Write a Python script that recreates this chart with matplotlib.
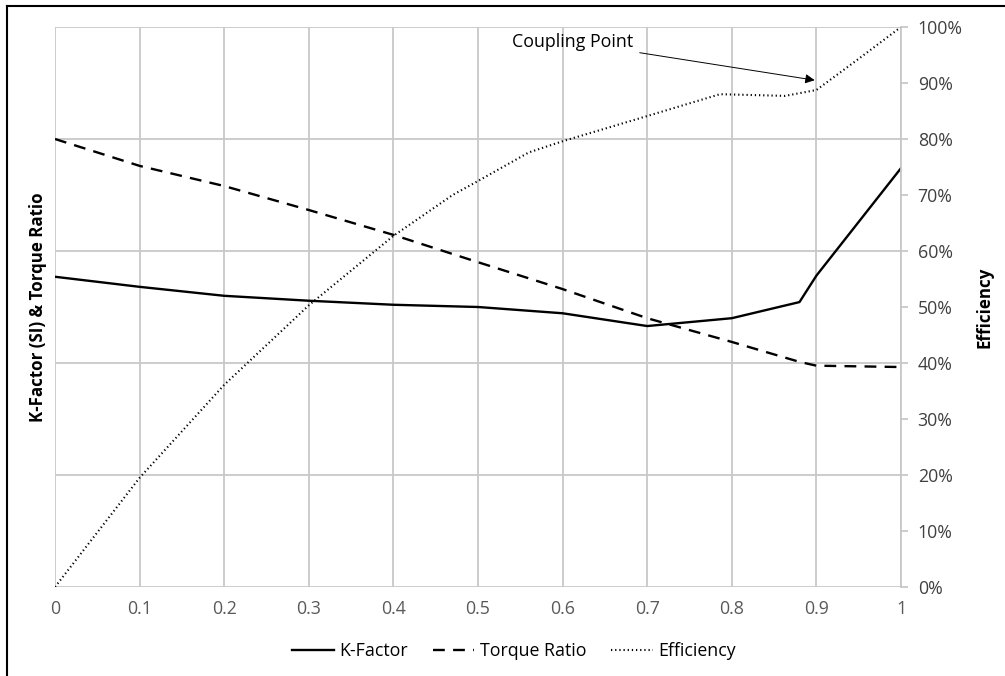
import matplotlib.pyplot as plt
from matplotlib.lines import Line2D
from matplotlib.ticker import PercentFormatter

plt.rcParams['font.family'] = ['Open Sans', 'DejaVu Sans']

# speed ratio
k_x = [0, 0.1, 0.2, 0.3, 0.4, 0.5, 0.6, 0.7, 0.8, 0.88, 0.9, 1.0]
k_factor = [1.385, 1.34, 1.30, 1.278, 1.26, 1.25, 1.222, 1.165, 1.20, 1.272, 1.39, 1.87]

tr_x = [0, 0.1, 0.2, 0.3, 0.4, 0.5, 0.6, 0.7, 0.8, 0.88, 0.9, 1.0]
torque_ratio = [2.0, 1.88, 1.79, 1.683, 1.572, 1.45, 1.33, 1.20, 1.094, 1.005, 0.988, 0.982]

eff_x = [0, 0.1, 0.2, 0.3, 0.4, 0.47, 0.5, 0.56, 0.6, 0.7, 0.786, 0.863, 0.9, 0.948, 1.0]
efficiency = [0.0, 0.195, 0.361, 0.503, 0.627, 0.70, 0.725, 0.776, 0.796, 0.841, 0.880,
              0.877, 0.8875, 0.941, 1.0]

fig = plt.figure(figsize=(10.05, 6.76), dpi=100)
ax = fig.add_axes([55 / 1005, 1 - 587 / 676, 846 / 1005, 560 / 676])
ax2 = ax.twinx()

grid_c = '#c8c8c8'
fs = 12.8
ax.set_xlim(0, 1)
ax.set_ylim(0, 2.5)
ax.set_xticks([i / 10 for i in range(11)])
ax.set_xticklabels(['0'] + [f'{i / 10:.1f}' for i in range(1, 10)] + ['1'])
ax.set_yticks([0, 0.5, 1.0, 1.5, 2.0, 2.5])
ax.set_yticklabels([])
ax.grid(True, color=grid_c, lw=1.3)
ax.tick_params(axis='y', length=0)
ax.tick_params(axis='x', length=0, pad=9, labelsize=fs, labelcolor='#595959')
for s in ['top', 'left', 'bottom', 'right']:
    ax.spines[s].set_visible(False)

ax.plot(k_x, k_factor, color='black', lw=1.7, label='K-Factor')
ax.plot(tr_x, torque_ratio, color='black', lw=1.7, dashes=(5, 3.5), label='Torque Ratio')
ax2.plot(eff_x, efficiency, color='black', lw=1.5, dashes=(0.6, 1.4), label='Efficiency')

ax2.set_ylim(0, 1)
ax2.set_yticks([i / 10 for i in range(11)])
ax2.yaxis.set_major_formatter(PercentFormatter(1, decimals=0))
ax2.tick_params(axis='y', length=5, color=grid_c, width=1.3, pad=7,
                labelsize=fs, labelcolor='#404040')
for s in ['top', 'left', 'bottom']:
    ax2.spines[s].set_visible(False)
ax2.spines['right'].set_color(grid_c)
ax2.spines['right'].set_linewidth(1.3)

ax.set_ylabel('K-Factor (SI) & Torque Ratio', fontsize=12.2, fontweight='bold', labelpad=2)
ax2.set_ylabel('Efficiency', fontsize=12.2, fontweight='bold', labelpad=9)

ax2.annotate('Coupling Point', xy=(0.898, 0.905), xytext=(0.683, 0.973),
             fontsize=fs, ha='right', va='center',
             arrowprops=dict(arrowstyle='-|>', color='black', lw=0.7,
                             mutation_scale=14, shrinkA=3, shrinkB=0))

h1, l1 = ax.get_legend_handles_labels()
h2, l2 = ax2.get_legend_handles_labels()
fig.legend(h1 + h2, l1 + l2, loc='center', bbox_to_anchor=(514 / 1005, 1 - 651 / 676),
           ncol=3, frameon=False, fontsize=fs, handlelength=2.35, columnspacing=1.4,
           handletextpad=0.3)

# chart border (cropped screenshot: only left and top edges visible)
fig.add_artist(Line2D([7 / 1005, 7 / 1005], [0, 1 - 6 / 676], color='black', lw=1.5))
fig.add_artist(Line2D([7 / 1005, 1], [1 - 6 / 676, 1 - 6 / 676], color='black', lw=1.5))

fig.savefig('out.png', dpi=100)
